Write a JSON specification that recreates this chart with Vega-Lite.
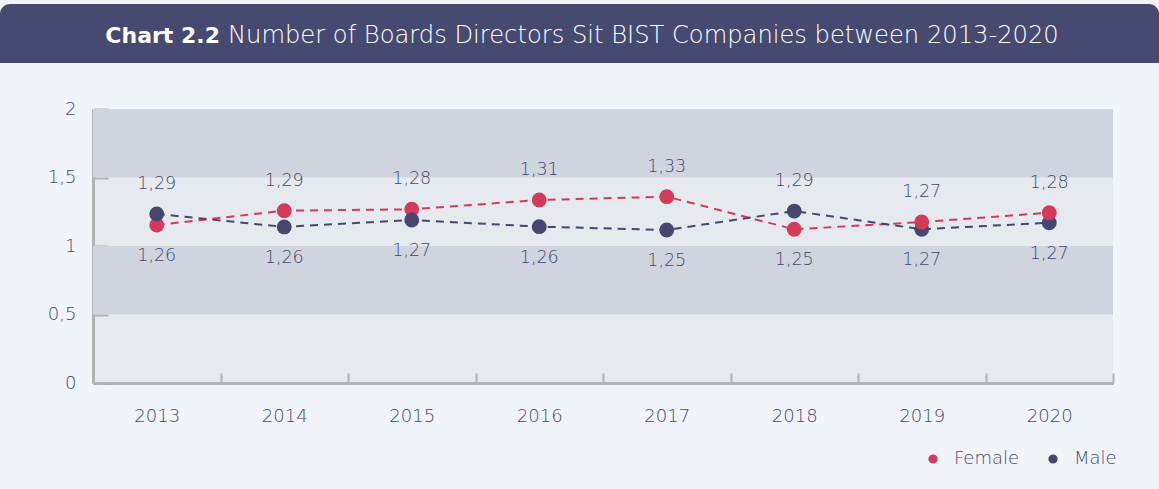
{
  "$schema": "https://vega.github.io/schema/vega-lite/v6.json",
  "background": "#f1f4f8",
  "padding": {"left": 0, "top": 4, "right": 0, "bottom": 21},
  "spacing": 37,
  "config": {"font": "DejaVu Sans", "view": {"stroke": null}},
  "datasets": {
    "points": [
      {"year": "2013", "sex": "Female", "value": 1.153, "label": "1,26"},
      {"year": "2013", "sex": "Male", "value": 1.234, "label": "1,29"},
      {"year": "2014", "sex": "Female", "value": 1.258, "label": "1,29"},
      {"year": "2014", "sex": "Male", "value": 1.139, "label": "1,26"},
      {"year": "2015", "sex": "Female", "value": 1.268, "label": "1,28"},
      {"year": "2015", "sex": "Male", "value": 1.19, "label": "1,27"},
      {"year": "2016", "sex": "Female", "value": 1.336, "label": "1,31"},
      {"year": "2016", "sex": "Male", "value": 1.141, "label": "1,26"},
      {"year": "2017", "sex": "Female", "value": 1.36, "label": "1,33"},
      {"year": "2017", "sex": "Male", "value": 1.117, "label": "1,25"},
      {"year": "2018", "sex": "Female", "value": 1.122, "label": "1,25"},
      {"year": "2018", "sex": "Male", "value": 1.255, "label": "1,29"},
      {"year": "2019", "sex": "Male", "value": 1.122, "label": "1,27"},
      {"year": "2019", "sex": "Female", "value": 1.175, "label": "1,27"},
      {"year": "2020", "sex": "Male", "value": 1.17, "label": "1,27"},
      {"year": "2020", "sex": "Female", "value": 1.243, "label": "1,28"}
    ],
    "bands": [
      {"from": 0.5, "to": 1},
      {"from": 1.5, "to": 2}
    ]
  },
  "vconcat": [
    {
      "width": 1159,
      "height": 59,
      "data": {"values": [{"bold": "Chart 2.2", "rest": "Number of Boards Directors Sit BIST Companies between 2013-2020"}]},
      "layer": [
        {"mark": {"type": "rect", "color": "#474a70", "cornerRadiusTopLeft": 10, "cornerRadiusTopRight": 10}, "encoding": {}},
        {"mark": {"type": "text", "align": "right", "baseline": "middle", "fontWeight": "bold", "fontSize": 22, "color": "#ffffff", "x": 220, "y": 32}, "encoding": {"text": {"field": "bold"}}},
        {"mark": {"type": "text", "align": "left", "baseline": "middle", "fontWeight": 200, "fontSize": 24.2, "color": "#ffffff", "x": 228, "y": 32}, "encoding": {"text": {"field": "rest"}}}
      ]
    },
    {
      "spacing": 0,
      "hconcat": [
        {
          "width": 1,
          "height": 1,
          "data": {"values": []},
          "mark": {"type": "point", "opacity": 0},
          "encoding": {}
        },
        {
          "width": 1020,
          "height": 274,
          "view": {"fill": "#e6eaef", "stroke": null},
          "encoding": {
            "y": {
              "type": "quantitative",
              "scale": {"domain": [0, 2]},
              "axis": {"title": null, "values": [0, 0.5, 1, 1.5, 2], "labelExpr": "replace(format(datum.value, '~g'), '.', ',')", "tickSize": -15, "tickWidth": 2, "tickColor": "#b3b3b3", "domainColor": "#b3b3b3", "domainWidth": 3, "grid": false, "labelPadding": 32, "labelFontSize": 18, "labelFontWeight": 200, "labelColor": "#45476f", "minExtent": 92}
            }
          },
          "layer": [
            {
              "data": {"name": "bands"},
              "mark": {"type": "rect", "color": "#cfd4df"},
              "encoding": {
                "y": {"field": "from", "type": "quantitative"},
                "y2": {"field": "to"}
              }
            },
            {
              "data": {"name": "points"},
              "encoding": {
                "x": {
                  "field": "year", "type": "ordinal",
                  "scale": {"type": "band", "paddingInner": 0, "paddingOuter": 0},
                  "axis": {"title": null, "labelAngle": 0, "tickBand": "extent", "tickSize": -10, "tickWidth": 2, "tickColor": "#b3b3b3", "domainColor": "#b3b3b3", "domainWidth": 3, "labelPadding": 34, "labelFontSize": 18, "labelFontWeight": 200, "labelColor": "#45476f"}
                },
                "y": {"field": "value", "type": "quantitative"}
              },
              "layer": [
                {
                  "mark": {"type": "line", "strokeDash": [8, 6], "strokeWidth": 2},
                  "encoding": {
                    "color": {
                      "field": "sex", "type": "nominal",
                      "scale": {"domain": ["Female", "Male"], "range": ["#d43a5a", "#45476f"]},
                      "legend": {"orient": "none", "legendX": 924, "legendY": 446, "direction": "horizontal", "title": null, "symbolType": "circle", "symbolSize": 60, "labelFontSize": 18, "labelFontWeight": 200, "labelColor": "#45476f", "columnPadding": 24, "labelOffset": 12}
                    }
                  }
                },
                {
                  "mark": {"type": "circle", "size": 220, "opacity": 1},
                  "encoding": {
                    "color": {
                      "field": "sex", "type": "nominal",
                      "scale": {"domain": ["Female", "Male"], "range": ["#d43a5a", "#45476f"]},
                      "legend": {"orient": "none", "legendX": 924, "legendY": 446, "direction": "horizontal", "title": null, "symbolType": "circle", "symbolSize": 60, "labelFontSize": 18, "labelFontWeight": 200, "labelColor": "#45476f", "columnPadding": 24, "labelOffset": 12}
                    }
                  }
                },
                {
                  "transform": [
                    {"joinaggregate": [{"op": "max", "field": "value", "as": "maxv"}], "groupby": ["year"]},
                    {"filter": "datum.value === datum.maxv"}
                  ],
                  "mark": {"type": "text", "dy": -30, "fontSize": 17.5, "fontWeight": 200, "color": "#45476f"},
                  "encoding": {"text": {"field": "label"}}
                },
                {
                  "transform": [
                    {"joinaggregate": [{"op": "max", "field": "value", "as": "maxv"}], "groupby": ["year"]},
                    {"filter": "datum.value !== datum.maxv"}
                  ],
                  "mark": {"type": "text", "dy": 31, "fontSize": 17.5, "fontWeight": 200, "color": "#45476f"},
                  "encoding": {"text": {"field": "label"}}
                }
              ]
            }
          ]
        }
      ]
    }
  ]
}
